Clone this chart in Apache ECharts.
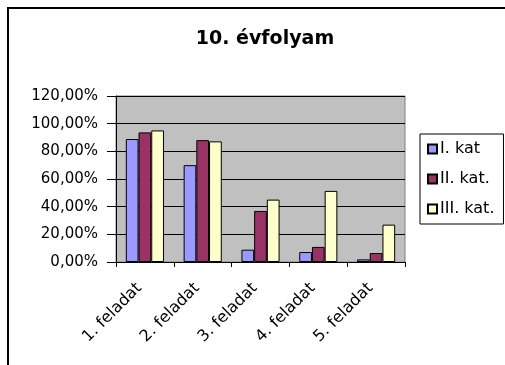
<!DOCTYPE html>
<html>
<head>
<meta charset="utf-8">
<style>
  html, body { margin: 0; padding: 0; background: #fff; }
  #chart { width: 505px; height: 365px; }
</style>
<script src="https://cdn.jsdelivr.net/npm/echarts@6/dist/echarts.min.js"></script>
</head>
<body>
<div id="chart"></div>
<script>
// Task names along the x axis
const categories = ['1. feladat', '2. feladat', '3. feladat', '4. feladat', '5. feladat'];
// Share of correct answers per category group (percent)
const katI = [88.9, 70.0, 8.9, 7.2, 1.9];
const katII = [93.7, 88.1, 36.9, 10.9, 6.5];
const katIII = [95.1, 87.2, 45.1, 51.4, 27.0];
const seriesNames = ['I. kat', 'II. kat.', 'III. kat.'];
const yTicks = { min: 0, max: 120, interval: 20 };

const FONT = '"DejaVu Sans", "Liberation Sans", Arial, sans-serif';
const chart = echarts.init(document.getElementById('chart'), null, { renderer: 'canvas' });

function barSeries(name, data, color) {
  return {
    name: name,
    type: 'bar',
    data: data,
    barGap: '0%',
    barCategoryGap: '34%',
    itemStyle: { color: color, borderColor: '#000', borderWidth: 1 },
    emphasis: { disabled: true }
  };
}

chart.setOption({
  animation: false,
  backgroundColor: '#fff',
  textStyle: { fontFamily: FONT },
  title: {
    text: '10. évfolyam',
    left: 260,
    top: 25,
    textAlign: 'center',
    textStyle: { fontSize: 19, fontWeight: 'bold', color: '#000', fontFamily: FONT }
  },
  legend: {
    orient: 'vertical',
    left: 420,
    top: 134,
    padding: [7, 9, 7, 7],
    itemWidth: 9,
    itemHeight: 9,
    itemGap: 14,
    icon: 'rect',
    borderColor: '#000',
    borderWidth: 1,
    backgroundColor: '#fff',
    textStyle: { fontSize: 16, color: '#000', fontFamily: FONT, padding: [0, 0, 0, -2] },
    data: seriesNames
  },
  grid: {
    left: 116,
    top: 96,
    right: 100,
    bottom: 103,
    show: true,
    backgroundColor: '#C0C0C0',
    borderColor: '#808080',
    borderWidth: 1,
    containLabel: false
  },
  xAxis: {
    type: 'category',
    data: categories,
    axisLine: { lineStyle: { color: '#000', width: 1 } },
    axisTick: { show: true, alignWithLabel: false, length: 5, lineStyle: { color: '#000' } },
    axisLabel: {
      rotate: 45, fontSize: 16, color: '#000', margin: 18, fontFamily: FONT,
      padding: [0, 8, 0, 0]
    }
  },
  yAxis: {
    type: 'value',
    min: yTicks.min,
    max: yTicks.max,
    interval: yTicks.interval,
    axisLine: { show: true, lineStyle: { color: '#000', width: 1 } },
    axisTick: { show: true, inside: false, length: 9, lineStyle: { color: '#000' } },
    splitLine: { show: true, lineStyle: { color: '#000', width: 1 } },
    axisLabel: {
      fontSize: 15,
      color: '#000',
      margin: 18,
      fontFamily: FONT,
      formatter: v => v.toFixed(2).replace('.', ',') + '%'
    }
  },
  series: [
    barSeries(seriesNames[0], katI, '#9999FF'),
    barSeries(seriesNames[1], katII, '#993366'),
    barSeries(seriesNames[2], katIII, '#FFFFCC')
  ],
  graphic: [
    {
      type: 'rect',
      silent: true,
      z: 100,
      shape: { x: 8, y: 8, width: 510, height: 370 },
      style: { fill: null, stroke: '#000', lineWidth: 2 }
    }
  ]
});
</script>
</body>
</html>
